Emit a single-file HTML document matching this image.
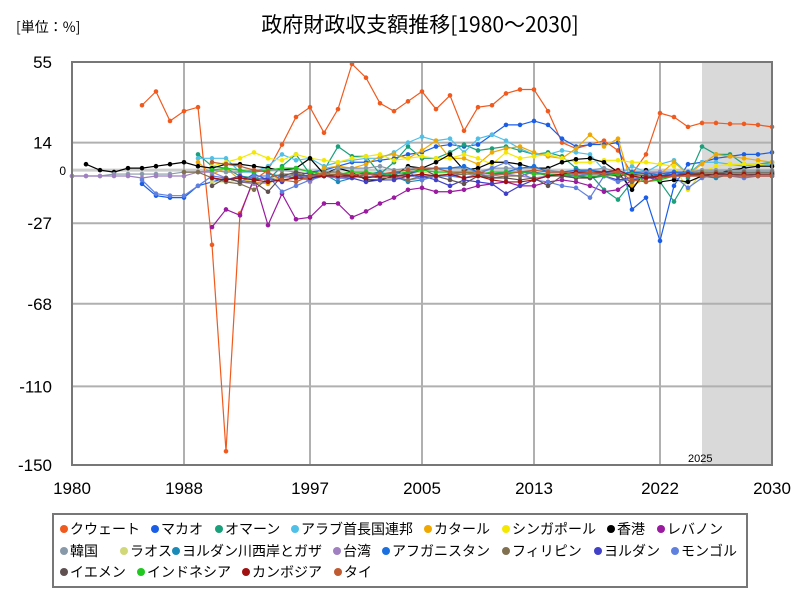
<!DOCTYPE html>
<html><head><meta charset="utf-8"><style>
body{margin:0;background:#fff;font-family:"Liberation Sans","Noto Sans CJK JP",sans-serif}
#wrap{position:relative;width:800px;height:600px;overflow:hidden}
.lg{position:absolute;font-size:14px;white-space:nowrap;color:#000;font-family:"Noto Sans CJK JP","Liberation Sans",sans-serif;line-height:16px}
.lg i{display:inline-block;width:8px;height:8px;border-radius:50%;margin-right:2px;vertical-align:1px}
</style></head><body>
<div id="wrap">
<svg id="svg" width="800" height="600" style="position:absolute;left:0;top:0"></svg>
<div style="position:absolute;left:52px;top:513px;width:696px;height:75px;border:2px solid #777;box-sizing:border-box"></div>
<div id="legend"></div>
</div>
<script>
const years = [1980, 2030];
const yTicks = [55, 14, -27, -68, -110, -150];
const xTicks = [1980, 1988, 1997, 2005, 2013, 2022, 2030];
const seriesNames = ["クウェート","マカオ","オマーン","アラブ首長国連邦","カタール","シンガポール","香港","レバノン","韓国","ラオス","ヨルダン川西岸とガザ","台湾","アフガニスタン","フィリピン","ヨルダン","モンゴル","イエメン","インドネシア","カンボジア","タイ"];
const seriesColors = ["#f05a1e","#1a5ee8","#1aa07a","#4fc0e8","#f0a800","#f5e800","#000000","#9a1aa0","#8899aa","#d0d878","#1a8ab8","#a080c0","#1a70e0","#807050","#4040c8","#6080e0","#605050","#20c820","#a01010","#c05a30"];
const seriesStart = [1985,1985,1989,1989,1989,1990,1981,1990,1980,1990,1994,1980,2002,1988,1990,1985,1990,1990,1990,1990];
const kuwait = [33,40,25,30,32,-38,-143,-22,-5,0,13,27,32,19,31,54,47,34,30,35,40,31,38,20,32,33,39,41,41,30,14,11,13,15,10,-2,8,29,27,22,24,24,23.5,23.5,23,22];
const macao = [-7,-13,-14,-14,-8,-6,-4,-6,-2,-5,-3,-3,-1,0,2,4,4,5,6,8,9,12,13,12,13,18,23,23,25,23,16,12,13,13,14,-20,-14,-36,-8,3,4,6,7,8,8,9];
const oman = [8,2,1,-3,-4,-5,2,8,-2,0,12,7,7,-2,4,12,6,6,9,13,10,11,12,10,8,9,7,1,-2,-10,-15,-6,-3,-6,-16,-4,12,8,8,3,3,4,5,5,6,6];
const uae = [6,6,6,-1,-1,2,8,5,6,2,4,5,6,6,9,14,17,15,16,9,16,18,15,11,8,8,10,9,8,0,-3,2,-1,3,5,-2,4,4,3,2,3,3,3,3,3,3];
const qatar = [4,-2,1,-5,-6,-7,-3,-4,-4,1,2,1,3,7,8,6,10,15,6,6,3,9,11,12,9,7,6,11,18,12,16,-8,-4,-2,4,-2,3,8,7,6,5,4,4,4,4,4];
const singapore = [2,4,6,9,6,5,8,6,5,4,6,7,8,5,6,7,6,6,8,6,3,9,6,7,8,6,4,4,5,5,4,4,3,2,-10,-1,2,3,3,3,2,2,2,2,2];
const hongkong = [3,0,-1,1,1,2,3,4,2,1,3,3,2,1,0,1,6,-2,1,-1,-5,-5,-3,2,1,4,8,0,1,4,4,3,1,1,4,5.5,6,4,-1,-10,0,-6,-5,-6,-3,-2,0,1,2,2];
const lebanon = [-29,-20,-23,-4,-28,-12,-25,-24,-17,-17,-24,-21,-17,-14,-10,-9,-11,-11,-10,-8,-7,-6,-8,-8,-6,-5,-6,-8,-11,-10,-5,-4,-4,-3,-3,-3,-3,-3,-3,-3,-3];
const korea = [-3,-3,-3,-2,-2,-2,-2,-2,-1,-1,0,-1,-1,0,0,0,-1,-4,-3,1,1,1,2,0,1,1,1,1,1,-1,1,1,1,1,0,-1,-1,0,1,-1,-3,-2,-1,-1,-1,0,0,0,0,0,0];
const laos = [-6,-6,-5,-5,-4,-4,-3,-4,-3,-2,-1,-2,-2,-3,-2,-1,-2,-2,-1,-1,-2,-1,-1,-2,-2,-3,-4,-4,-3,-3,-2,-2,-2,-1,-1,-1,-1,-1,-1,-1,-1];
const westbank = [-2,-3,-4,-5,-2,-6,-4,-2,-1,-3,-6,-5,-3,-2,-1,-2,-3,-1,-1,-1,-2,-3,-3,-2,-2,-2,-1,-1,-3,-1,-2,-3,-4,-2,-3,-2,-2];
const taiwan = [-3,-3,-3,-3,-3,-4,-3,-3,-3,-1,-1,-4,-6,-7,-6,-4,-2,-6,-1,-4,-2,-2,-3,-3,-5,-4,-3,-2,-2,-2,-3,-2,-3,-4,-3,-3,-2,-2,-1,-1,-2,-1,-1,-1,-1,-1,-1,-1,-1,-1,-1];
const afghan = [-3,-1,-2,0,1,1,2,-1,-2,-1,1,2,-1,-1,0,0,-1,-2,-1,-2,-2,-1,-1,-2,-2,-1,-1,-1,-1];
const philippines = [-1,-1,-4,-6,-7,-10,-4,-2,-2,-3,-1,-1,-3,-3,-4,-4,-5,-3,-3,-3,-2,-2,-4,-3,-3,-1,-3,-3,-1,-2,-2,-3,-6,-3,-3,-2,-2,-1,-1,-1,-1,-1,-1];
const jordan = [-4,-5,-3,-5,-4,-6,-3,-3,-3,-4,-4,-6,-5,-5,-3,-3,-5,-8,-5,-6,-7,-12,-8,-5,-3,-2,-3,-4,-3,-5,-4,-4,-3,-2,-2,-2,-2,-2,-2,-2,-2];
const mongolia = [-5,-12,-13,-13,-8,-3,-4,-6,-3,-3,-11,-8,-5,-3,-4,-3,-4,-2,-2,-1,-5,-3,-3,-4,-2,1,4,-1,-5,-6,-8,-9,-14,-3,-6,-4,-4,-3,-3,-9,-4,-2,-3,-4,-3,-3];
const yemen = [-8,-4,-6,-6,-11,-3,-1,-2,-3,-2,-3,-1,-3,-3,-2,1,-3,-5,-7,-3,-4,-4,-5,-4,-8,-3,-4,-4,-2,-3,-2,-3,-3,-3,-3,-2,-2,-2,-2];
const indonesia = [0,1,0,-1,0,1,1,-1,-2,-2,-1,-1,-2,-2,-1,0,-1,-1,-1,-2,-1,-1,-1,-2,-2,-2,-3,-3,-3,-2,-2,-6,-5,-3,-2,-2,-2,-2,-2,-2,-2];
const cambodia = [-4,-5,-4,-5,-6,-5,-4,-4,-3,-3,-3,-4,-3,-3,-3,-2,-3,-2,-4,-3,-5,-6,-6,-5,-3,-2,-1,-1,-1,0,-3,-4,-3,-3,-2,-2,-2,-2,-2,-2,-2];
const thai = [4,3,2,0,-1,-5,-6,-3,-2,-2,-2,-2,-2,-1,0,1,1,-1,-1,-1,-2,-2,-1,0,-1,-1,-2,-1,-2,-1,-5,-6,-4,-3,-3,-3,-3,-3,-3,-3,-3];
const seriesValues = [kuwait,macao,oman,uae,qatar,singapore,hongkong,lebanon,korea,laos,westbank,taiwan,afghan,philippines,jordan,mongolia,yemen,indonesia,cambodia,thai];

const X0=72,X1=772,Y0=62,Y1=465;
const xs=y=>X0+(y-years[0])/(years[1]-years[0])*(X1-X0);
const ys=v=>Y0+(55-v)/(55-(-150))*(Y1-Y0);
const svg=document.getElementById('svg');
const NS='http://www.w3.org/2000/svg';
function mk(t,a){const e=document.createElementNS(NS,t);for(const k in a)e.setAttribute(k,a[k]);svg.appendChild(e);return e;}
let e;
e=mk('rect',{x:xs(2025),y:Y0,width:xs(2030)-xs(2025),height:Y1-Y0,fill:'#d9d9d9'});


yTicks.forEach(t=>{
 if(t!==55&&t!==-150){e=mk('line',{x1:X0,x2:X1,y1:ys(t),y2:ys(t),stroke:'#b0b0b0','stroke-width':2});
 
 }
 e=mk('text',{x:52,y:ys(t)+6,'text-anchor':'end','font-size':17,fill:'#000'});e.textContent=t;
 
 
});
e=mk('line',{x1:X0,x2:X1,y1:ys(0),y2:ys(0),stroke:'#cccccc','stroke-width':3});


e=mk('text',{x:66,y:ys(0)+5,'text-anchor':'end','font-size':12});e.textContent='0';


xTicks.forEach(t=>{
 if(t!==1980&&t!==2030){e=mk('line',{x1:xs(t),x2:xs(t),y1:Y0,y2:Y1,stroke:'#b0b0b0','stroke-width':2});
 
 }
 e=mk('text',{x:xs(t),y:494,'text-anchor':'middle','font-size':17});e.textContent=t;
 
 
});
e=mk('text',{x:xs(2025)-14,y:462,'font-size':11});e.textContent='2025';


seriesValues.forEach((vals,i)=>{
 const c=seriesColors[i];
 const pts=[];
 vals.forEach((v,j)=>{const yr=seriesStart[i]+j;if(yr<=years[1])pts.push([xs(yr),ys(v)]);});
 e=mk('polyline',{points:pts.map(p=>p.join(',')).join(' '),fill:'none',stroke:c,'stroke-width':1.2});
 
 
 pts.forEach(p=>{e=mk('circle',{cx:p[0],cy:p[1],r:2.3,fill:c});
 
 });
});
e=mk('rect',{x:X0,y:Y0,width:X1-X0,height:Y1-Y0,fill:'none',stroke:'#777','stroke-width':2});


e=mk('text',{x:420,y:32,'text-anchor':'middle','font-size':21,'font-family':'"Noto Sans CJK JP","Liberation Sans",sans-serif'});e.textContent='政府財政収支額推移[1980～2030]';


e=mk('text',{x:16,y:32,'font-size':14,'font-family':'"Noto Sans CJK JP","Liberation Sans",sans-serif'});e.textContent='[単位：%]';


const lx=[[64,155,219,295,428,506,611,661],[64,124,176,337,386,506,598,675],[64,141,246,338]];
const ly=[521,543,564];
const lg=document.getElementById('legend');
let k=0;
lx.forEach((row,r)=>row.forEach(x=>{
 const d=document.createElement('div');d.className='lg';d.style.left=(x-4)+'px';d.style.top=ly[r]+'px';
 d.innerHTML='<i style="background:'+seriesColors[k]+'"></i>'+seriesNames[k];
 
 
 lg.appendChild(d);k++;
}));
</script>
</body></html>
